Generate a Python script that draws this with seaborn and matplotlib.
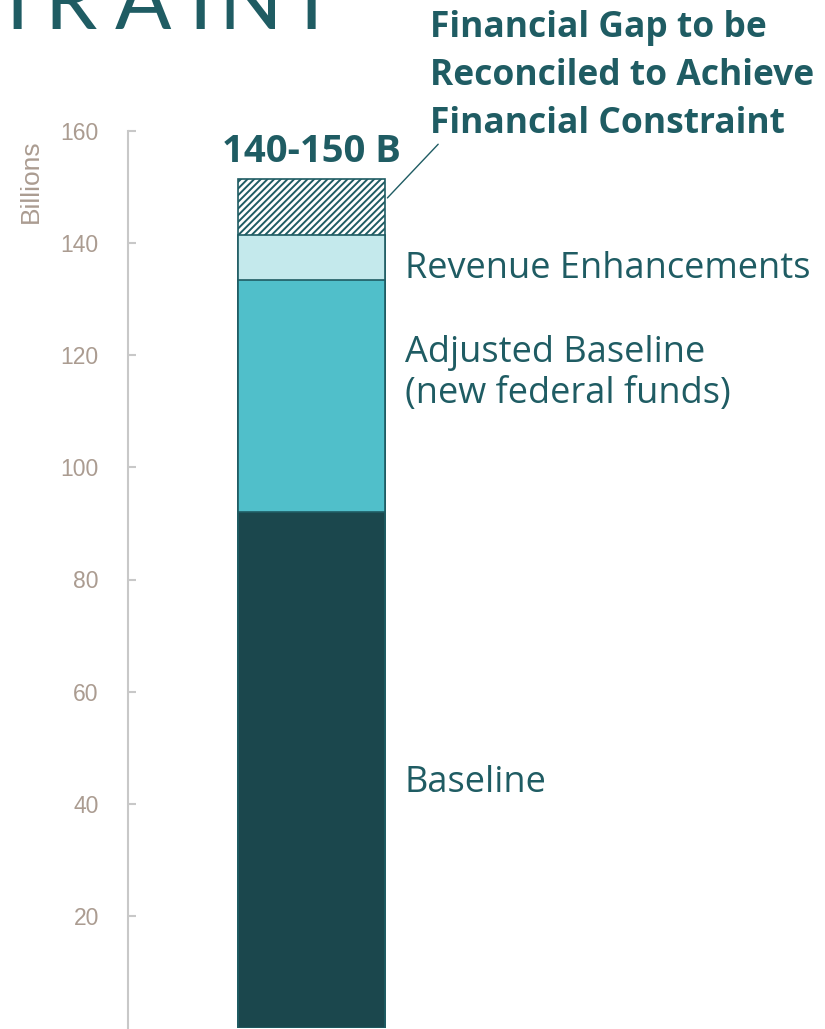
import numpy as np
import pandas as pd
import seaborn as sns
import matplotlib.pyplot as plt

# data (billions)
segments = ['Baseline', 'Adjusted Baseline', 'Revenue Enhancements', 'Financial Gap']
values = [92, 41.4, 8, 10]
colors = ['#1b474d', '#50bfca', '#c4e9ec', 'white']
hatches = ['', '', '', '/////']
yticks = [20, 40, 60, 80, 100, 120, 140, 160]

teal = '#1f5c63'
taupe = '#ab9c91'

tops = np.cumsum(values)
df = pd.DataFrame({'seg': segments, 'top': tops, 'grp': ['all'] * len(segments)})

sns.set_style('white')
plt.rcParams['hatch.linewidth'] = 1.4
plt.rcParams['hatch.color'] = teal

fig = plt.figure(figsize=(8.25, 10.29), dpi=100)
ax = fig.add_axes([128 / 825, 1 / 1029, 697 / 825, 897 / 1029])

# stacked bar: draw tallest first, overlay the shorter ones
for i in range(len(segments) - 1, -1, -1):
    row = df.iloc[[i]]
    sns.barplot(data=row, x='grp', y='top', color=colors[i], ax=ax,
                edgecolor=teal, linewidth=1.2, hatch=hatches[i], saturation=1,
                width=0.8)
    ax.patches[-1].set_facecolor(colors[i])

ax.set_xlim(-1.0, 2.79)
ax.set_ylim(0, 160)
ax.set_yticks(yticks)
ax.set_yticklabels([str(t) for t in yticks], color=taupe, fontsize=16.5,
                   family='Liberation Sans')
ax.set_xticks([])
ax.set_xlabel('')
ax.set_ylabel('')
ax.tick_params(axis='y', left=True, direction='in', length=5.5, width=1.5,
               color='#c8c8c8', pad=21)
for s in ['top', 'right', 'bottom']:
    ax.spines[s].set_visible(False)
ax.spines['left'].set_color('#c8c8c8')
ax.spines['left'].set_linewidth(1.5)

fig.text(31 / 825, 1 - 181 / 1029, 'Billions', rotation=90, color=taupe, fontsize=19,
         family='Liberation Sans', ha='center', va='center')

# cut-off title (only the bottom of it shows in the reference)
title_letters = ['T', 'R', 'A', 'I', 'N', 'T']
title_x = [17, 70, 143, 200, 250, 311]
for ch, xp in zip(title_letters, title_x):
    fig.text(xp / 825, 1 - 29 / 1029, ch, color=teal, fontsize=60,
             family='Lato', ha='center', va='baseline')

# segment labels
lab_kw = dict(color=teal, fontsize=26, family='Open Sans', ha='left', va='baseline')
lx = 0.506
ax.text(lx, 133.8, 'Revenue Enhancements', **lab_kw)
ax.text(lx, 118.8, 'Adjusted Baseline', **lab_kw)
ax.text(lx, 111.5, '(new federal funds)', **lab_kw)
ax.text(lx, 42.1, 'Baseline', **lab_kw)

ax.text(0, tops[-1] + 3.0, '140-150 B', color=teal, fontsize=27.5, family='Open Sans',
        fontweight='bold', ha='center', va='baseline')

fig.text(430 / 825, 1 - 76 / 1029,
         'Financial Gap to be\nReconciled to Achieve\nFinancial Constraint',
         color=teal, fontsize=25.5, family='Open Sans', fontweight='bold',
         ha='left', va='center', linespacing=1.45)

# leader line from the gap segment to the note
ax.annotate('', xy=(0.4, tops[-1] - 3.7), xytext=(0.697, 158),
            arrowprops=dict(arrowstyle='-', color=teal, lw=1), annotation_clip=False)

fig.savefig('out.png', dpi=100)
